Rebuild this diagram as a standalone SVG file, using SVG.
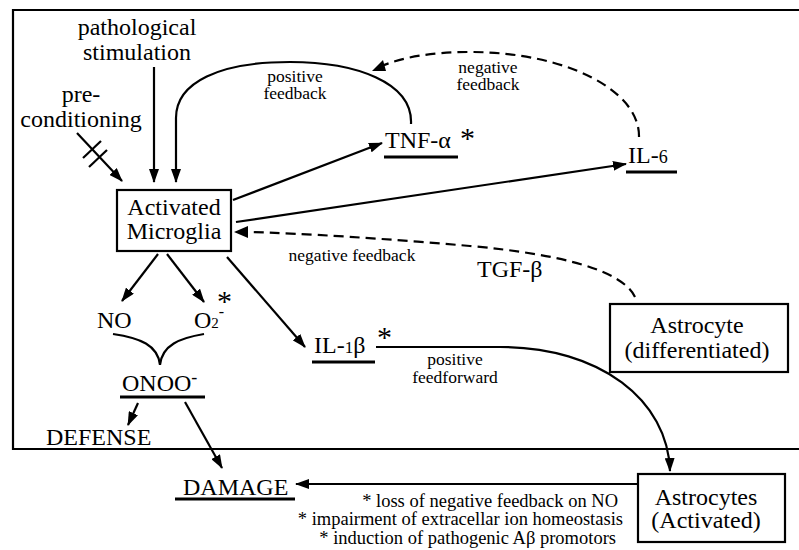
<svg xmlns="http://www.w3.org/2000/svg" width="799" height="550" viewBox="0 0 799 550" font-family="'Liberation Serif', 'DejaVu Serif', 'Times New Roman', serif">
<defs>
<marker id="ah" viewBox="0 0 14 10" refX="13" refY="5" markerWidth="14" markerHeight="10" orient="auto" markerUnits="userSpaceOnUse"><path d="M0,0 L14,5 L0,10 Z" fill="#000"/></marker>
<style>
text{font-family:'Liberation Serif','DejaVu Serif','Times New Roman',serif;fill:#000}
.m{font-size:24px}
.s{font-size:17.5px}
.f{font-size:18.5px}
.c{text-anchor:middle}
.ln{fill:none;stroke:#000;stroke-width:2.2}
.ar{fill:none;stroke:#000;stroke-width:2.2;marker-end:url(#ah)}
.da{fill:none;stroke:#000;stroke-width:2.2;stroke-dasharray:10 6}
.ul{stroke:#000;stroke-width:3}
.box{fill:#fff;stroke:#000;stroke-width:2.2}
.ast{font-size:30px}
</style>
</defs>
<rect width="799" height="550" fill="#fff"/>
<path id="frame" class="ln" d="M799,10 H13 V449 H799"/>

<g id="connectors">
<line class="ar" x1="77" y1="133" x2="122" y2="181"/>
<line class="ln" x1="83" y1="158" x2="101" y2="141"/>
<line class="ln" x1="89" y1="167" x2="107" y2="150"/>
<line class="ar" x1="154" y1="67" x2="154" y2="182"/>
<path class="ar" d="M411,124 C413,82 355,62 290,62 C220,62 176,82 176,118 L176,182"/>
<path class="da" d="M639,137 C640,90 565,52 470,52 C430,52 400,58 382,66"/>
<path d="M372,71 L383,60 L386,71 Z" fill="#000"/>
<line class="ar" x1="233" y1="200" x2="382" y2="143"/>
<line class="ar" x1="236" y1="222" x2="626" y2="164"/>
<path class="da" d="M635,297 C622,270 560,254 470,246 C390,239 300,233 246,232"/>
<path d="M234,232 L248,226 L248,238 Z" fill="#000"/>
<line class="ar" x1="158" y1="254" x2="122" y2="301"/>
<line class="ar" x1="167" y1="254" x2="204" y2="302"/>
<line class="ar" x1="227" y1="257" x2="305" y2="347"/>
<path class="ln" d="M113,334 C140,338 158,345 160,365 M204,334 C180,338 162,345 160,365"/>
<line class="ar" x1="138" y1="403" x2="128" y2="425"/>
<line class="ar" x1="185" y1="402" x2="222" y2="468"/>
<line class="ar" x1="638" y1="484" x2="296" y2="484"/>
<path class="ar" d="M376,347 H500 C600,347 668,400 670,471"/>
</g>

<g id="labels">
<text class="s c" x="295" y="82">positive</text>
<text class="s c" x="295" y="99">feedback</text>
<text class="s c" x="488" y="73">negative</text>
<text class="s c" x="488" y="90">feedback</text>
<text class="s c" x="352" y="261">negative feedback</text>
<text class="m" x="477" y="277">TGF-β</text>
<text class="s c" x="455" y="365">positive</text>
<text class="s c" x="455" y="383">feedforward</text>
</g>

<g id="pathological">
<text class="m c" x="137" y="35">pathological</text>
<text class="m c" x="137" y="60">stimulation</text>
</g>
<g id="preconditioning">
<text class="m c" x="81" y="102">pre-</text>
<text class="m c" x="81" y="127">conditioning</text>
</g>
<g id="microglia">
<rect class="box" x="117" y="190" width="114" height="61"/>
<text class="m c" x="174" y="215">Activated</text>
<text class="m c" x="174" y="239">Microglia</text>
</g>
<g id="tnf">
<text class="m" x="385" y="148">TNF-α</text>
<line class="ul" x1="384" y1="157" x2="458" y2="157"/>
<text class="ast" x="460" y="148">*</text>
</g>
<g id="il6">
<text class="m" x="628" y="163">IL-<tspan style="font-size:18px">6</tspan></text>
<line class="ul" x1="626" y1="172" x2="677" y2="172"/>
</g>
<g id="no">
<text class="m" x="97" y="328">NO</text>
</g>
<g id="o2">
<text class="m" x="194" y="328">O<tspan style="font-size:15px">2</tspan><tspan style="font-size:16px" dy="-11">-</tspan></text>
<text class="ast" x="217" y="311">*</text>
</g>
<g id="onoo">
<text class="m" x="122" y="391">ONOO<tspan style="font-size:18px" dy="-8">-</tspan></text>
<line class="ul" x1="120" y1="397" x2="205" y2="397"/>
</g>
<g id="defense">
<text class="m" x="46" y="445">DEFENSE</text>
</g>
<g id="damage">
<text class="m" x="183" y="495">DAMAGE</text>
<line class="ul" x1="175" y1="499" x2="295" y2="499"/>
</g>
<g id="il1b">
<text class="m" x="314" y="353">IL-<tspan style="font-size:17px">1</tspan>β</text>
<line class="ul" x1="312" y1="362" x2="375" y2="362"/>
<text class="ast" x="377" y="347">*</text>
</g>
<g id="astro-diff">
<rect class="box" x="610" y="304" width="178" height="68"/>
<text class="m c" x="697" y="333">Astrocyte</text>
<text class="m c" x="697" y="358">(differentiated)</text>
</g>
<g id="astro-act">
<rect class="box" x="638" y="474" width="147" height="68"/>
<text class="m c" x="706" y="505">Astrocytes</text>
<text class="m c" x="706" y="528">(Activated)</text>
</g>
<g id="notes">
<text class="f" x="618" y="507" text-anchor="end">* loss of negative feedback on NO</text>
<text class="f" x="623" y="525" text-anchor="end">* impairment of extracellar ion homeostasis</text>
<text class="f" x="616" y="544" text-anchor="end">* induction of pathogenic Aβ promotors</text>
</g>
</svg>
